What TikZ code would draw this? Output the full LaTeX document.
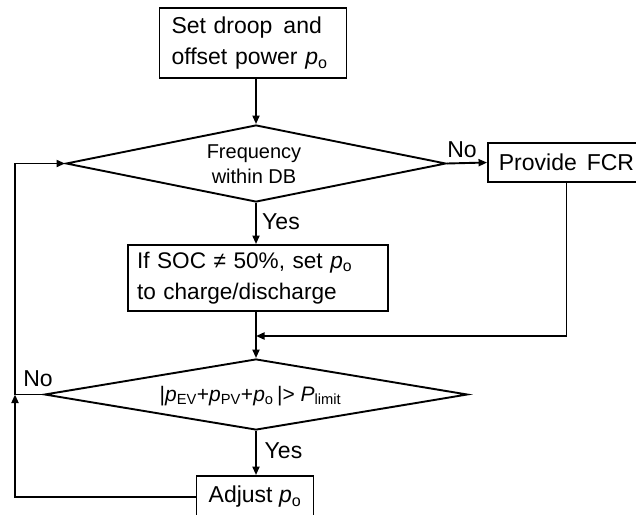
\documentclass[tikz,border=0pt]{standalone}
\usepackage{fontspec}
\setmainfont{Liberation Sans}
\usetikzlibrary{shapes.geometric,arrows.meta}

\begin{document}
\begin{tikzpicture}[x=1pt,y=-1pt,
  flow/.style={line width=1.9pt, -{Triangle[length=8.5pt,width=7pt]}},
  stepbox/.style={draw, line width=1.9pt, inner sep=0pt,
    font=\fontsize{23}{31}\selectfont},
  decision/.style={draw, diamond, line width=1.9pt, inner sep=0pt},
  lbl/.style={inner sep=0pt, font=\fontsize{23}{28}\selectfont},
]
\useasboundingbox (0,0) rectangle (636,514);

% process boxes
\node[stepbox, minimum width=187pt, minimum height=70pt, text width=163pt,
      align=left] (set) at (253,43)
  {Set droop\hspace{11pt}and\\offset power \textit{p}\textsubscript{o}};
\node[stepbox, minimum width=260pt, minimum height=66pt, text width=242pt,
      align=left, font=\fontsize{22.6}{31}\selectfont] (soc) at (258,278)
  {If SOC ≠ 50\%, set \textit{p}\textsubscript{o}\\to charge/discharge};
\node[stepbox, minimum width=157pt, minimum height=39pt] (fcr) at (566.5,162.5)
  {Provide\hspace{10pt}FCR};
\node[stepbox, minimum width=117pt, minimum height=42pt] (adj) at (255,497)
  {Adjust \textit{p}\textsubscript{o}};

% decisions
\node[decision, minimum width=380pt, minimum height=77pt] (freq) at (256,163.5) {};
\node[lbl, font=\fontsize{20}{25}\selectfont, align=center] (freqtext)
  at (254,164.5) {Frequency\\within DB};
\node[decision, minimum width=423pt, minimum height=71pt] (lim) at (256,394.5) {};
\node[lbl, font=\fontsize{21}{25}\selectfont] (limtext) at (250.5,396)
  {|\textit{p}\textsubscript{EV}+\textit{p}\textsubscript{PV}+\textit{p}\textsubscript{o}\,|>
   \textit{P}\textsubscript{limit}};

% branch labels
\node[lbl, anchor=base] (no1) at (462,157) {No};
\node[lbl, anchor=base] (yes1) at (281,229) {Yes};
\node[lbl, anchor=base] (yes2) at (283.5,458) {Yes};
\node[lbl, anchor=base] (no2) at (38,386) {No};

% helper points for the rails
\coordinate (rail) at (15,0);
\coordinate (merge) at (256,336);

% connectors
\draw[flow] (set.south -| freq.north) -- (freq.north);
\draw[flow] (freq.south) -- (freq.south |- soc.north);
\draw[flow] (freq.east) -- (fcr.west);
\draw[flow] (soc.south -| lim.north) -- (lim.north);
\draw[flow] (fcr.south) |- (merge);
\draw[flow] (lim.south) -- (lim.south |- adj.north);
\draw[flow] (lim.west) -| (rail |- freq.west) -- (freq.west);
\draw[flow] (adj.west) -| (rail |- lim.west);
\end{tikzpicture}
\end{document}
